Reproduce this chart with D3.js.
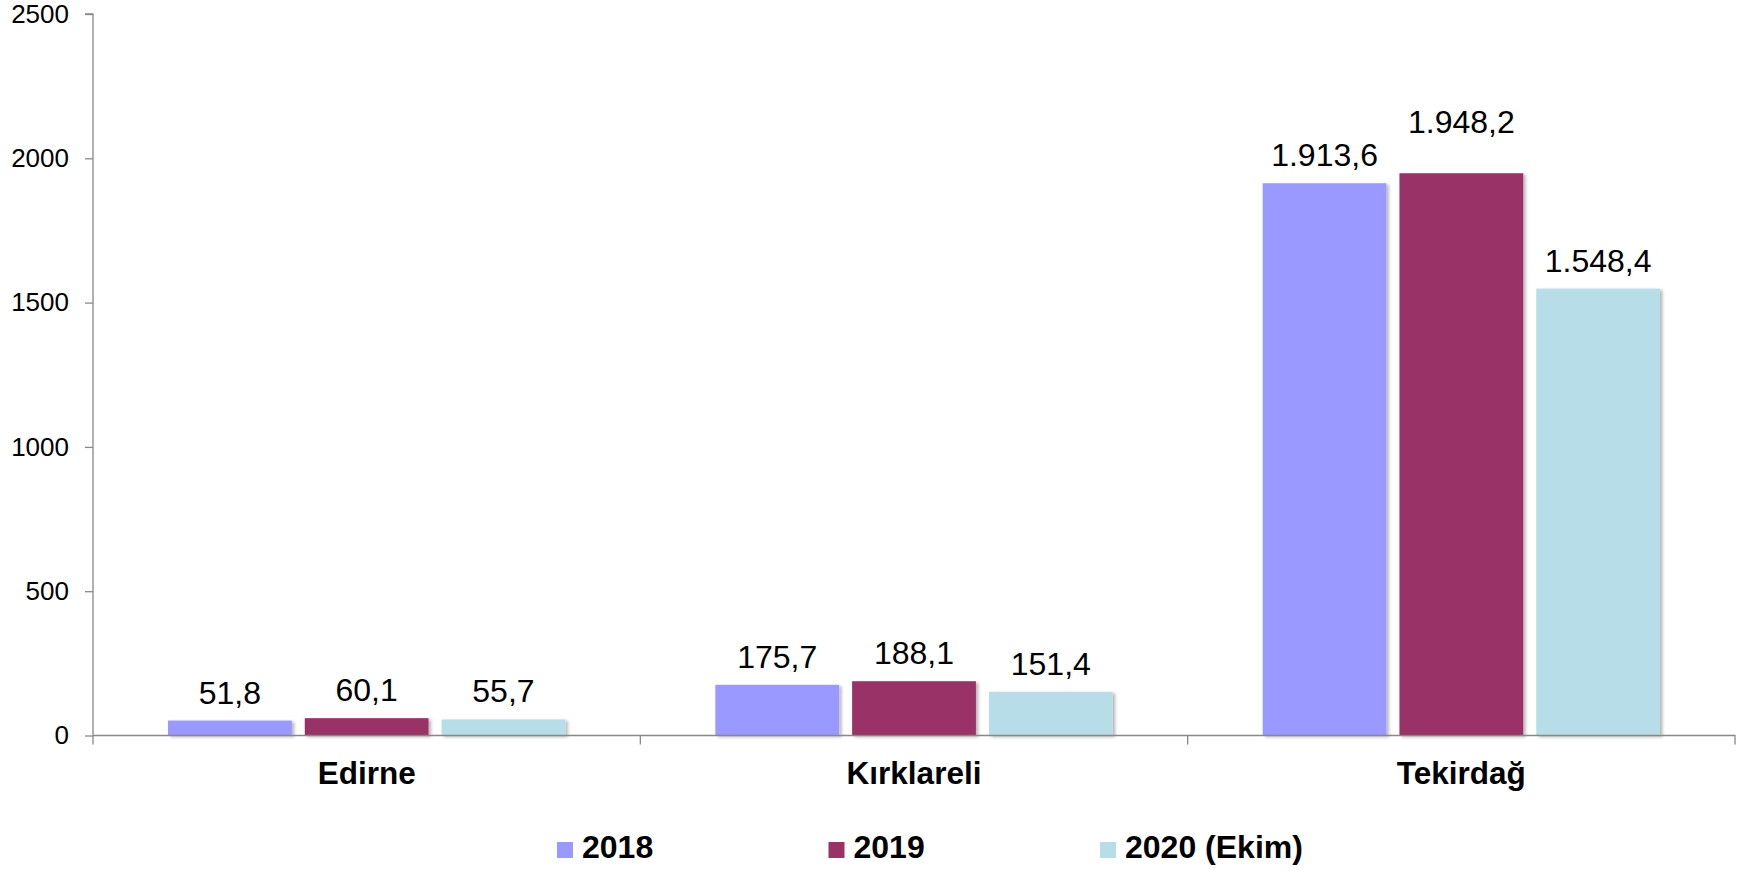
<!DOCTYPE html>
<html>
<head>
<meta charset="utf-8">
<script src="https://cdn.jsdelivr.net/npm/d3@7"></script>
<style>
  html, body { margin: 0; padding: 0; background: #fff; }
  svg { display: block; font-family: "Liberation Sans", Arial, sans-serif; }
</style>
</head>
<body>
<svg id="chart" width="1744" height="870"></svg>
<script>
const categories = ["Edirne", "Kırklareli", "Tekirdağ"];
const seriesNames = ["2018", "2019", "2020 (Ekim)"];
const values2018 = [51.8, 175.7, 1913.6];
const values2019 = [60.1, 188.1, 1948.2];
const values2020 = [55.7, 151.4, 1548.4];
const yTicks = [0, 500, 1000, 1500, 2000, 2500];
const colors = ["#9999FF", "#993366", "#B7DEE8"];

const seriesValues = [values2018, values2019, values2020];

(function () {
const svg = d3.select("#chart");
const mLeft = 93, mRight = 1735, mTop = 14, mBottom = 735.5;

const defs = svg.append("defs");
const f = defs.append("filter").attr("id", "shadow")
  .attr("x", "-10%").attr("y", "-10%").attr("width", "130%").attr("height", "130%");
f.append("feDropShadow").attr("dx", 2.5).attr("dy", 1.5).attr("stdDeviation", 1.8)
  .attr("flood-color", "#000").attr("flood-opacity", 0.28);

const x0 = d3.scaleBand().domain(categories).range([mLeft, mRight]).paddingInner(0).paddingOuter(0);
const groupPad = 75;
const x1 = d3.scaleBand().domain(seriesNames)
  .range([groupPad, x0.bandwidth() - groupPad]).paddingInner(0.095).paddingOuter(0);
const y = d3.scaleLinear().domain([0, 2500]).range([mBottom, mTop]);

const fmt = v => {
  const parts = v.toFixed(1).split(".");
  const intPart = parts[0].replace(/\B(?=(\d{3})+(?!\d))/g, ".");
  return intPart + "," + parts[1];
};

const data = [];
categories.forEach((c, ci) => {
  seriesNames.forEach((s, si) => {
    data.push({ cat: c, series: s, si: si, value: seriesValues[si][ci] });
  });
});

const gBars = svg.append("g");
gBars.selectAll("rect").data(data).enter().append("rect")
  .attr("x", d => x0(d.cat) + x1(d.series))
  .attr("y", d => y(d.value))
  .attr("width", x1.bandwidth())
  .attr("height", d => y(0) - y(d.value))
  .attr("fill", d => colors[d.si])
  .attr("filter", "url(#shadow)");

gBars.selectAll("text.val").data(data).enter().append("text")
  .attr("class", "val")
  .attr("x", d => x0(d.cat) + x1(d.series) + x1.bandwidth() / 2)
  .attr("y", d => y(d.value) - 17 - ((d.cat === "Tekirdağ" && d.series === "2019") ? 23 : 0))
  .attr("text-anchor", "middle")
  .attr("font-size", 32)
  .attr("fill", "#000")
  .text(d => fmt(d.value));

const yAxis = d3.axisLeft(y).tickValues(yTicks).tickSize(8).tickPadding(16).tickFormat(d => d);
const gy = svg.append("g").attr("transform", `translate(${mLeft},0)`).call(yAxis);
gy.select(".domain").attr("stroke", "#888").attr("stroke-width", 1.3)
  .attr("d", `M-8,${mTop}H0V${mBottom + 9}`);
gy.selectAll(".tick line").attr("stroke", "#888").attr("stroke-width", 1.3);
gy.selectAll(".tick text").attr("font-size", 26).attr("fill", "#000")
  .attr("font-family", "\"Liberation Sans\", Arial, sans-serif");

const xAxis = d3.axisBottom(x0).tickSize(0).tickFormat("");
const gx = svg.append("g").attr("transform", `translate(0,${mBottom})`).call(xAxis);
gx.select(".domain").attr("stroke", "#888").attr("stroke-width", 1.3)
  .attr("d", `M${mLeft},0H${mRight}V9`);
gx.selectAll(".tick").remove();
const boundaries = categories.map(c => x0(c) + x0.bandwidth()).slice(0, -1);
gx.selectAll("line.sep").data(boundaries).enter().append("line")
  .attr("x1", d => d).attr("x2", d => d).attr("y1", 0).attr("y2", 9)
  .attr("stroke", "#888").attr("stroke-width", 1.3);

svg.append("g").selectAll("text").data(categories).enter().append("text")
  .attr("x", d => x0(d) + x0.bandwidth() / 2)
  .attr("y", 784)
  .attr("text-anchor", "middle")
  .attr("font-size", 31.5)
  .attr("font-weight", "bold")
  .attr("fill", "#000")
  .text(d => d);

const legendX = d3.scalePoint().domain(seriesNames).range([557, 1100]);
const lg = svg.append("g").selectAll("g").data(seriesNames).enter().append("g")
  .attr("transform", d => `translate(${legendX(d)},842)`);
lg.append("rect").attr("width", 16).attr("height", 16)
  .attr("fill", (d, i) => colors[i]);
lg.append("text").attr("x", 25).attr("y", 16)
  .attr("font-size", 32).attr("font-weight", "bold").attr("fill", "#000")
  .text(d => d);
})();
</script>
</body>
</html>
